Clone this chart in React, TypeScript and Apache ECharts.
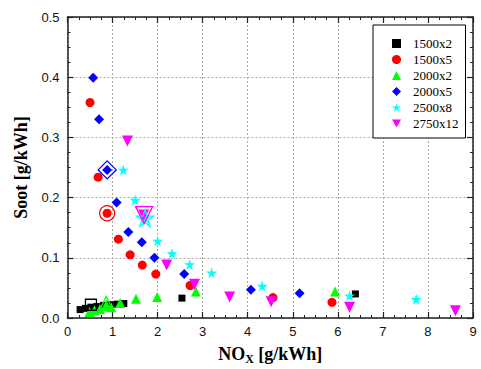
import React, { useEffect, useRef } from "react";
import * as echarts from "echarts";

const seriesNames = ["1500x2", "1500x5", "2000x2", "2000x5", "2500x8", "2750x12"];
const seriesColors = ["#000000", "#ff0000", "#00ff00", "#0000ff", "#00ffff", "#ff00ff"];

const data1500x2 = [[0.28, 0.014], [0.4, 0.016], [0.52, 0.018], [0.65, 0.019], [0.8, 0.021], [0.95, 0.022], [1.1, 0.023], [1.25, 0.024], [2.54, 0.033], [6.39, 0.04]];
const data1500x5 = [[0.5, 0.358], [0.68, 0.234], [0.88, 0.174], [1.13, 0.131], [1.39, 0.105], [1.66, 0.088], [1.96, 0.073], [2.72, 0.054], [4.56, 0.034], [5.87, 0.026]];
const data2000x2 = [[0.49, 0.01], [0.6, 0.013], [0.72, 0.015], [0.86, 0.022], [0.97, 0.018], [1.17, 0.025], [1.52, 0.032], [1.99, 0.035], [2.85, 0.044], [5.94, 0.044]];
const data2000x5 = [[0.57, 0.399], [0.7, 0.33], [0.88, 0.246], [1.09, 0.192], [1.35, 0.143], [1.65, 0.126], [1.93, 0.1], [2.59, 0.073], [4.07, 0.047], [5.15, 0.041]];
const data2500x8 = [[1.24, 0.246], [1.5, 0.196], [1.72, 0.166], [2.0, 0.128], [2.32, 0.107], [2.71, 0.089], [3.2, 0.075], [4.32, 0.053], [6.26, 0.037], [7.74, 0.031]];
const data2750x12 = [[1.33, 0.294], [1.69, 0.171], [2.2, 0.088], [2.82, 0.056], [3.6, 0.035], [4.52, 0.027], [6.26, 0.018], [8.61, 0.012]];

// highlighted (open, enlarged) points
const hi1500x2 = [[0.52, 0.022]];
const hi1500x5 = [[0.88, 0.174]];
const hi2000x2 = [[0.86, 0.024]];
const hi2000x5 = [[0.88, 0.246]];
const hi2500x8 = [[1.72, 0.166]];
const hi2750x12 = [[1.7, 0.171]];

const xTicks = { min: 0, max: 9, interval: 1 };
const yTicks = { min: 0, max: 0.5, interval: 0.1 };

const STAR = "path://M50,0 L61,35 L98,35 L68,57 L79,91 L50,70 L21,91 L32,57 L2,35 L39,35 Z";
const DOWN = "path://M0,0 L100,0 L50,87 Z";

const symbols = ["rect", "circle", "triangle", "diamond", STAR, DOWN];
const sizes = [7, 9, 10, 10, 11, 11];
const hiSizes = [11, 15, 14, 18, 17, 17];

export default function App() {
  const ref = useRef<HTMLDivElement>(null);
  useEffect(() => {
    if (!ref.current) return;
    const chart = echarts.init(ref.current, undefined, { renderer: "svg" });
    const datasets = [data1500x2, data1500x5, data2000x2, data2000x5, data2500x8, data2750x12];
    const highlights = [hi1500x2, hi1500x5, hi2000x2, hi2000x5, hi2500x8, hi2750x12];
    const axisCommon = {
      axisLine: { show: true, onZero: false, lineStyle: { color: "#222", width: 1.5 } },
      axisTick: { show: true, inside: true, length: 6, lineStyle: { color: "#222", width: 1.2 } },
      minorTick: { show: true, splitNumber: 4, length: 3, lineStyle: { color: "#222", width: 1 } },
    };
    const labelStyle = { fontFamily: "Liberation Sans, Arial, sans-serif", fontSize: 13, color: "#111" };
    const nameStyle = { fontFamily: "Liberation Serif, Times New Roman, serif", fontSize: 18, fontWeight: "bold" as const, color: "#000" };
    const series: any[] = [];
    datasets.forEach((d, i) => {
      series.push({
        name: seriesNames[i],
        type: "scatter",
        data: d,
        symbol: symbols[i],
        symbolSize: sizes[i],
        itemStyle: { color: seriesColors[i], opacity: 1 },
        z: 3,
      });
    });
    highlights.forEach((d, i) => {
      series.push({
        name: "hi" + i,
        type: "scatter",
        data: d,
        symbol: symbols[i],
        symbolSize: hiSizes[i],
        itemStyle: { color: "none", borderColor: seriesColors[i], borderWidth: 1.3, opacity: 1 },
        z: 4,
        silent: true,
      });
    });
    chart.setOption({
      animation: false,
      grid: { left: 67.5, right: 8, top: 17, bottom: 51, containLabel: false, outerBoundsMode: "none" },
      legend: {
        data: seriesNames.map((n, i) => ({ name: n, icon: symbols[i] })),
        orient: "vertical",
        left: 373,
        top: 25,
        padding: [12, 7, 8, 19],
        itemWidth: 9,
        itemHeight: 9,
        itemGap: 3,
        borderColor: "#000",
        borderWidth: 1,
        backgroundColor: "#fff",
        textStyle: { fontFamily: "Liberation Serif, Times New Roman, serif", fontSize: 13, color: "#000", padding: [0, 0, 0, 7], lineHeight: 12 },
        selectedMode: false,
      },
      xAxis: [
        {
          type: "value",
          ...xTicks,
          position: "bottom",
          ...axisCommon,
          axisLabel: { ...labelStyle, margin: 7 },
          splitLine: { show: true, lineStyle: { color: "#aaa", type: [2, 2], width: 1 } },
          name: "{a|NO}{b|X}{a| [g/kWh]}",
          nameLocation: "middle",
          nameGap: 25,
          nameTextStyle: {
            ...nameStyle,
            rich: {
              a: { ...nameStyle },
              b: { ...nameStyle, fontSize: 12, padding: [10, 0, 0, 0], verticalAlign: "bottom" },
            },
          },
        },
        {
          type: "value",
          ...xTicks,
          position: "top",
          ...axisCommon,
          axisLabel: { show: false },
          splitLine: { show: false },
        },
      ],
      yAxis: [
        {
          type: "value",
          ...yTicks,
          position: "left",
          ...axisCommon,
          axisLabel: { ...labelStyle, margin: 8, formatter: (v: number) => v.toFixed(1) },
          splitLine: { show: true, lineStyle: { color: "#aaa", type: [2, 2], width: 1 } },
          name: "Soot [g/kWh]",
          nameLocation: "middle",
          nameGap: 38,
          nameTextStyle: nameStyle,
        },
        {
          type: "value",
          ...yTicks,
          position: "right",
          ...axisCommon,
          axisLabel: { show: false },
          splitLine: { show: false },
        },
      ],
      series,
    });
    return () => chart.dispose();
  }, []);
  return <div ref={ref} style={{ position: "fixed", left: 0, top: 0, width: 481, height: 369, background: "#fff" }} />;
}
